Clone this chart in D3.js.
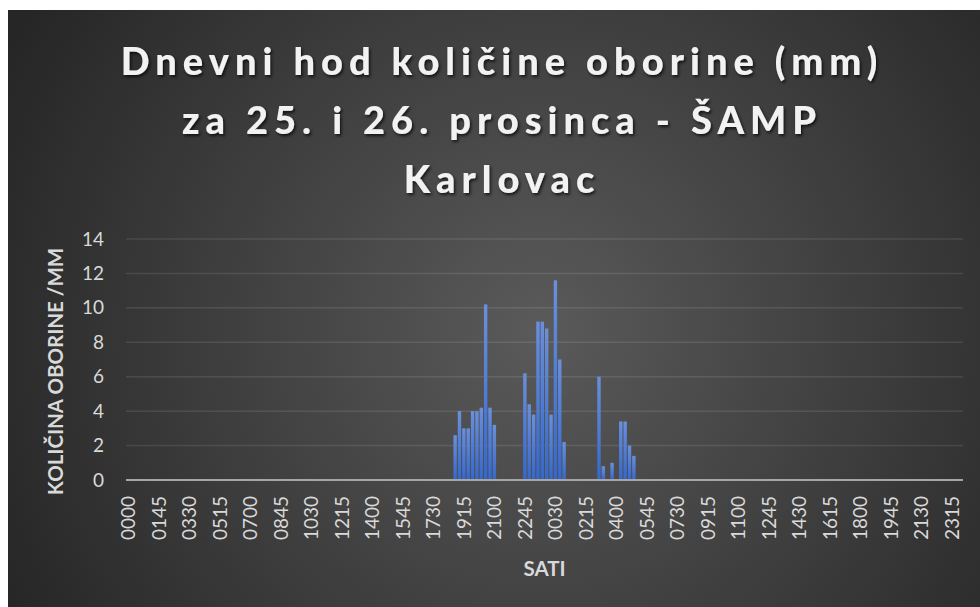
<!DOCTYPE html>
<html>
<head>
<meta charset="utf-8">
<script src="https://cdn.jsdelivr.net/npm/d3@7"></script>
<style>
  html, body { margin: 0; padding: 0; background: #ffffff; }
  svg { display: block; }
</style>
</head>
<body>
<svg id="chart" width="980" height="607"></svg>
<script>
// ---- DATA ----
const titleLines = ["Dnevni hod količine oborine (mm)", "za 25. i 26. prosinca - ŠAMP", "Karlovac"];
const yAxisTitle = "KOLIČINA OBORINE /MM";
const xAxisTitle = "SATI";

// 15-minute intervals over two days (25. and 26. prosinca)
const days = ["25", "26"];
const categories = [];
days.forEach(d => {
  for (let h = 0; h < 24; h++) {
    for (let m = 0; m < 60; m += 15) {
      categories.push(d + "-" + String(h).padStart(2, "0") + String(m).padStart(2, "0"));
    }
  }
});

// precipitation (mm) per 15-min interval, day 25 (96 values, 24 per row = 6 hours)
const valuesDay25 = [
  0,0,0,0, 0,0,0,0, 0,0,0,0, 0,0,0,0, 0,0,0,0, 0,0,0,0,           // 00:00-05:45
  0,0,0,0, 0,0,0,0, 0,0,0,0, 0,0,0,0, 0,0,0,0, 0,0,0,0,           // 06:00-11:45
  0,0,0,0, 0,0,0,0, 0,0,0,0, 0,0,0,0, 0,0,0,0, 0,0,0,0,           // 12:00-17:45
  0,0,0,2.6, 4.0,3.0,3.0,4.0, 4.0,4.2,10.2,4.2, 3.2,0,0,0, 0,0,0,6.2, 4.4,3.8,9.2,9.2 // 18:00-23:45
];
// day 26 (96 values)
const valuesDay26 = [
  8.8,3.8,11.6,7.0, 2.2,0,0,0, 0,0,0,0, 6.0,0.8,0,1.0, 0,3.4,3.4,2.0, 1.4,0,0,0, // 00:00-05:45
  0,0,0,0, 0,0,0,0, 0,0,0,0, 0,0,0,0, 0,0,0,0, 0,0,0,0,           // 06:00-11:45
  0,0,0,0, 0,0,0,0, 0,0,0,0, 0,0,0,0, 0,0,0,0, 0,0,0,0,           // 12:00-17:45
  0,0,0,0, 0,0,0,0, 0,0,0,0, 0,0,0,0, 0,0,0,0, 0,0,0,0            // 18:00-23:45
];
const values = valuesDay25.concat(valuesDay26);

const tickLabels = ["0000","0145","0330","0515","0700","0845","1030","1215","1400","1545","1730","1915","2100","2245",
                    "0030","0215","0400","0545","0730","0915","1100","1245","1430","1615","1800","1945","2130","2315"];
const yTicks = [0, 2, 4, 6, 8, 10, 12, 14];

// ---- DRAW ----
const svg = d3.select("#chart");
const defs = svg.append("defs");

const bg = defs.append("radialGradient").attr("id", "bgGrad")
  .attr("gradientUnits", "userSpaceOnUse")
  .attr("cx", 540).attr("cy", 330).attr("r", 600);
bg.append("stop").attr("offset", 0).attr("stop-color", "#5a5a5a");
bg.append("stop").attr("offset", 1).attr("stop-color", "#262626");

const barGrad = defs.append("linearGradient").attr("id", "barGrad")
  .attr("x1", 0).attr("y1", 0).attr("x2", 0).attr("y2", 1);
barGrad.append("stop").attr("offset", 0).attr("stop-color", "#6a90dc");
barGrad.append("stop").attr("offset", 1).attr("stop-color", "#3568cc");

const shadow = defs.append("filter").attr("id", "tshadow")
  .attr("x", "-10%").attr("y", "-30%").attr("width", "120%").attr("height", "160%");
shadow.append("feDropShadow").attr("dx", 1.5).attr("dy", 2).attr("stdDeviation", 1.5)
  .attr("flood-color", "#000").attr("flood-opacity", 0.7);

svg.append("rect").attr("x", 8).attr("y", 10).attr("width", 972).attr("height", 597)
  .attr("fill", "url(#bgGrad)");

const margin = { left: 126, right: 963, top: 239, bottom: 480 };

const x = d3.scaleBand().domain(d3.range(categories.length))
  .range([margin.left, margin.right]).paddingInner(0.22).paddingOuter(0.11);
const y = d3.scaleLinear().domain([0, 14]).range([margin.bottom, margin.top]);

// gridlines
svg.append("g").selectAll("line").data(yTicks.filter(t => t > 0)).join("line")
  .attr("x1", margin.left).attr("x2", margin.right)
  .attr("y1", d => y(d)).attr("y2", d => y(d))
  .attr("stroke", "#ffffff").attr("stroke-opacity", 0.1).attr("stroke-width", 1.5);

// bars
svg.append("g").selectAll("rect").data(values.map((v, i) => ({ v, i })).filter(d => d.v > 0)).join("rect")
  .attr("x", d => x(d.i)).attr("width", x.bandwidth())
  .attr("y", d => y(d.v)).attr("height", d => y(0) - y(d.v))
  .attr("fill", "url(#barGrad)");

// baseline
svg.append("line").attr("x1", margin.left).attr("x2", margin.right)
  .attr("y1", y(0)).attr("y2", y(0))
  .attr("stroke", "#a6a6a6").attr("stroke-width", 2);

// y axis
const yAxis = d3.axisLeft(y).tickValues(yTicks).tickSize(0).tickPadding(22);
const yg = svg.append("g").attr("transform", `translate(${margin.left},0)`).call(yAxis);
yg.select(".domain").remove();
yg.selectAll("text").attr("fill", "#d9d9d9").style("font-family", "Lato, 'Open Sans', sans-serif")
  .style("font-size", "19px");

// x axis
const tickIdx = tickLabels.map((_, k) => k * 7);
const xAxis = d3.axisBottom(x).tickValues(tickIdx).tickSize(0)
  .tickFormat((d, k) => tickLabels[k]);
const xg = svg.append("g").attr("transform", `translate(0,${margin.bottom})`).call(xAxis);
xg.select(".domain").remove();
xg.selectAll("text")
  .attr("fill", "#d9d9d9").style("font-family", "Lato, 'Open Sans', sans-serif").style("font-size", "19px")
  .attr("text-anchor", "end").attr("transform", "rotate(-90)")
  .attr("x", -16).attr("y", 0).attr("dy", "0.36em");

// axis titles
svg.append("text").attr("transform", `translate(63,${(margin.top + margin.bottom) / 2 + 12}) rotate(-90)`)
  .attr("text-anchor", "middle").attr("fill", "#d9d9d9")
  .style("font-family", "Lato, 'Open Sans', sans-serif").style("font-size", "20.5px").style("font-weight", "bold")
  .text(yAxisTitle);

svg.append("text").attr("x", (margin.left + margin.right) / 2).attr("y", 576)
  .attr("text-anchor", "middle").attr("fill", "#d9d9d9")
  .style("font-family", "Lato, 'Open Sans', sans-serif").style("font-size", "20.5px").style("font-weight", "bold")
  .text(xAxisTitle);

// title
svg.append("g").attr("filter", "url(#tshadow)").selectAll("text").data(titleLines).join("text")
  .attr("x", 502).attr("y", (d, i) => 75 + i * 59)
  .attr("text-anchor", "middle").attr("fill", "#f2f2f2")
  .style("font-family", "Lato, 'Open Sans', sans-serif").style("font-size", "38px").style("font-weight", "900")
  .style("letter-spacing", "6px")
  .text(d => d);
</script>
</body>
</html>
